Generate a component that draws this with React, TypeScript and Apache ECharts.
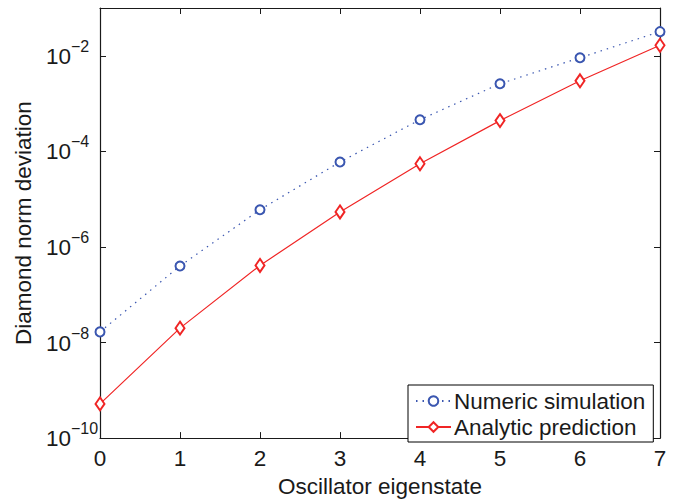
import React, { useEffect, useRef } from "react";
import * as echarts from "echarts";

const eigenstates = [0, 1, 2, 3, 4, 5, 6, 7];
const numericSimulation = [1.67e-8, 4.0e-7, 6.0e-6, 6.0e-5, 4.6e-4, 2.6e-3, 9.1e-3, 3.2e-2];
const analyticPrediction = [5.2e-10, 2.0e-8, 4.1e-7, 5.4e-6, 5.5e-5, 4.4e-4, 3.0e-3, 1.66e-2];
const seriesNames = ["Numeric simulation", "Analytic prediction"];
const xAxisTitle = "Oscillator eigenstate";
const yAxisTitle = "Diamond norm deviation";

const FONT = "'Liberation Sans', Arial, Helvetica, sans-serif";
const TEXT = "#1a1a1a";
const BLUE = "#3a56b0";
const RED = "#f02525";

export default function App() {
  const ref = useRef<HTMLDivElement>(null);
  useEffect(() => {
    document.body.style.margin = "0";
    if (!ref.current) return;
    const chart = echarts.init(ref.current, null, { renderer: "svg" });
    const yLabel = (v: number) => {
      const e = Math.round(Math.log10(v));
      if (e % 2 !== 0 || e > -2) return "";
      return "{b|10}{s|\u2212" + Math.abs(e) + "}";
    };
    const tickCommon = { show: true, inside: true, length: 6, lineStyle: { color: TEXT, width: 1 } };
    const lineCommon = { show: true, onZero: false, lineStyle: { color: TEXT, width: 1.2 } };
    chart.setOption({
      animation: false,
      backgroundColor: "#fff",
      textStyle: { fontFamily: FONT },
      grid: { left: 100, right: 40, top: 8, bottom: 54, containLabel: false },
      legend: {
        left: 408,
        top: 385,
        orient: "vertical",
        data: seriesNames,
        itemWidth: 35,
        itemHeight: 12,
        itemGap: 0,
        padding: [3, 8, 2, 7],
        borderColor: "#000",
        borderWidth: 1,
        backgroundColor: "#fff",
        borderRadius: 0,
        textStyle: { fontSize: 22.5, color: TEXT, fontFamily: FONT, lineHeight: 26, padding: [0, 0, 0, -2] },
      },
      xAxis: [
        {
          type: "value",
          min: 0,
          max: 7,
          interval: 1,
          name: xAxisTitle,
          nameLocation: "middle",
          nameGap: 29,
          nameTextStyle: { fontSize: 22.5, color: TEXT, fontFamily: FONT },
          axisLine: lineCommon,
          axisTick: tickCommon,
          splitLine: { show: false },
          axisLabel: { fontSize: 22.5, color: TEXT, fontFamily: FONT, margin: 9 },
        },
        {
          type: "value",
          position: "top",
          min: 0,
          max: 7,
          interval: 1,
          axisLine: lineCommon,
          axisTick: tickCommon,
          splitLine: { show: false },
          axisLabel: { show: false },
        },
      ],
      yAxis: [
        {
          type: "log",
          logBase: 10,
          min: 1e-10,
          max: 1e-1,
          interval: 2,
          name: yAxisTitle,
          nameLocation: "middle",
          nameGap: 57,
          nameRotate: 90,
          nameTextStyle: { fontSize: 22.5, color: TEXT, fontFamily: FONT },
          axisLine: lineCommon,
          axisTick: tickCommon,
          splitLine: { show: false },
          axisLabel: {
            formatter: yLabel,
            margin: 54,
            align: "left",
            color: TEXT,
            rich: {
              b: { fontSize: 22.5, color: TEXT, fontFamily: FONT, verticalAlign: "bottom", lineHeight: 24 },
              s: { fontSize: 16, color: TEXT, fontFamily: FONT, verticalAlign: "bottom", padding: [0, 0, 13.5, 0], lineHeight: 16 },
            },
          },
        },
        {
          type: "log",
          logBase: 10,
          min: 1e-10,
          max: 1e-1,
          interval: 2,
          position: "right",
          axisLine: lineCommon,
          axisTick: tickCommon,
          splitLine: { show: false },
          axisLabel: { show: false },
        },
      ],
      series: [
        {
          name: seriesNames[0],
          type: "line",
          data: eigenstates.map((x, i) => [x, numericSimulation[i]]),
          symbol: "emptyCircle",
          symbolSize: 9,
          color: BLUE,
          itemStyle: { color: BLUE, borderWidth: 1.2 },
          lineStyle: { color: BLUE, width: 1.2, type: [1.5, 5] },
          z: 3,
        },
        {
          name: seriesNames[1],
          type: "line",
          data: eigenstates.map((x, i) => [x, analyticPrediction[i]]),
          symbol: "emptyDiamond",
          symbolSize: [9, 13],
          color: RED,
          itemStyle: { color: RED, borderWidth: 1.2 },
          lineStyle: { color: RED, width: 1.2 },
          z: 4,
        },
      ],
    });
    return () => chart.dispose();
  }, []);
  return <div ref={ref} style={{ width: 700, height: 503 }} />;
}
